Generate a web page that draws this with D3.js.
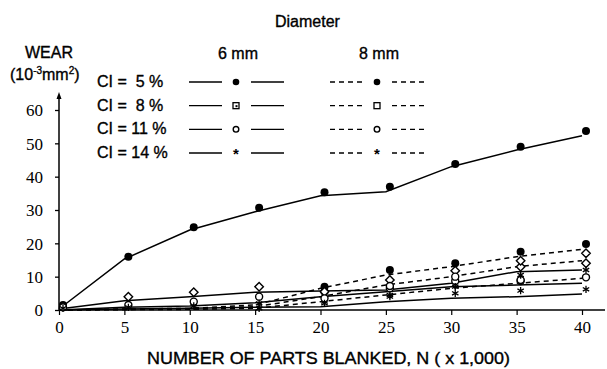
<!DOCTYPE html>
<html>
<head>
<meta charset="utf-8">
<script src="https://cdn.jsdelivr.net/npm/d3@7"></script>
<style>
	body { margin: 0; background: #fff; }
	svg text { font-family: "Liberation Sans", Arial, sans-serif; fill: #000; white-space: pre; }
	svg text.sans { stroke: #000; stroke-width: 0.35px; }
</style>
</head>
<body>
<svg id="chart" width="607" height="369"></svg>
<script>
'use strict';

// number of parts blanked (x 1,000)
var partsBlanked = [0, 5, 10, 15, 20, 25, 30, 35, 40];

// 6 mm diameter: measured points and fitted curve (wear, 10^-3 mm^2)
var d6ci5Points = [1.5, 16, 24.8, 30.7, 35.3, 37, 43.8, 49, 53.7];
var d6ci5Fit = [0.3, 15.3, 24, 29.5, 34.3, 35.5, 43, 48, 52.3];
var d6ci8Points = [null, 4, 5.3, 7, null, null, null, 13, 14];
var d6ci8Fit = [0.3, 2.8, 4, 5.3, 5.7, 6, 8, 11.5, 12];
var d6ci11Points = [0.8, 1.5, 2.5, 4, 5.5, 6.5, 8.7, 8.7, null];
var d6ci11Fit = [0, 0.8, 1.2, 2.2, 4, 5.5, 7, 7.5, 8];
var d6ci14Points = [0.5, 0.8, 1.2, 2, 2.5, 4.5, 5, 5.8, 6.2];
var d6ci14Fit = [0, 0.3, 0.5, 0.8, 1, 2.5, 3.5, 4, 4.8];

// 8 mm diameter
var d8ci5Points = [null, null, null, null, 7, 12, 14, 17.5, 19.8];
var d8ci5Fit = [0, 0.3, 0.5, 1.5, 6.5, 10.5, 13, 16, 18.2];
var d8ci8Points = [null, null, null, null, 5.5, 9, 11.8, 14.8, 17];
var d8ci8Fit = [0, 0.2, 0.4, 1, 4, 7.5, 10, 13, 14.8];
var d8ci11Points = [null, null, null, null, 3.5, 7.2, 10, 9, 9.8];
var d8ci11Fit = [0, 0.1, 0.2, 0.5, 2.5, 4.5, 6.5, 8, 9.5];
var d8ci14Points = [null, null, null, 0.5, 2, 4, 7, 10.5, 12];

var yTicks = [0, 10, 20, 30, 40, 50, 60];
var xTicks = [0, 5, 10, 15, 20, 25, 30, 35, 40];

var legendLabels = ["CI =  5 %", "CI =  8 %", "CI = 11 %", "CI = 14 %"];
var diameterLabels = ["6 mm", "8 mm"];

var wearChart = (function () {

	var MARK_DX = 4;
	var SERIF = "'Liberation Serif', 'Times New Roman', serif";

	var svg = d3.select("#chart");

	var x = d3.scaleLinear()
		.domain([0, 40])
		.range([59, 582]);

	var y = d3.scaleLinear()
		.domain([0, 60])
		.range([310, 110]);

	var series = [
		{ dash: null, mark: "dot", points: d6ci5Points, fit: d6ci5Fit },
		{ dash: null, mark: "diamond", points: d6ci8Points, fit: d6ci8Fit },
		{ dash: null, mark: "circle", points: d6ci11Points, fit: d6ci11Fit },
		{ dash: null, mark: "asterisk", points: d6ci14Points, fit: d6ci14Fit },
		{ dash: "5,4", mark: "dot", points: d8ci5Points, fit: d8ci5Fit },
		{ dash: "5,4", mark: "diamond", points: d8ci8Points, fit: d8ci8Fit },
		{ dash: "5,4", mark: "circle", points: d8ci11Points, fit: d8ci11Fit },
		{ dash: "5,4", mark: "asterisk", points: d8ci14Points, fit: null }
	];

	// legend symbols: rows x diameters
	var legendMarks = [["dot", "dot"], ["dotsquare", "square"], ["circle", "circle"], ["star", "star"]];

	function drawMark(g, kind, cx, cy, big) {
		var r = big ? 4 : 3.3;
		switch (kind) {
			case "dot":
				g.append("circle").attr("cx", cx).attr("cy", cy).attr("r", r)
					.style("fill", "#000");
				break;
			case "circle":
				g.append("circle").attr("cx", cx).attr("cy", cy).attr("r", r - 0.5)
					.style("fill", "#fff").style("stroke", "#000").style("stroke-width", 1.4);
				break;
			case "diamond":
				g.append("path")
					.attr("d", d3.symbol(d3.symbolDiamond2, 46)())
					.attr("transform", "translate(" + cx + "," + cy + ")")
					.style("fill", "#fff").style("stroke", "#000").style("stroke-width", 1.4);
				break;
			case "asterisk":
				g.append("path")
					.attr("d", d3.symbol(d3.symbolAsterisk, 38)())
					.attr("transform", "translate(" + cx + "," + cy + ")")
					.style("fill", "none").style("stroke", "#000").style("stroke-width", 1.3);
				break;
			case "square":
			case "dotsquare":
				g.append("rect").attr("x", cx - 3).attr("y", cy - 3)
					.attr("width", 6).attr("height", 6)
					.style("fill", "#fff").style("stroke", "#000").style("stroke-width", 1.3);
				if (kind === "dotsquare") {
					g.append("rect").attr("x", cx - 0.5).attr("y", cy - 0.5)
						.attr("width", 2).attr("height", 2).style("fill", "#000");
				}
				break;
			case "star":
				g.append("text").attr("x", cx).attr("y", cy + 6)
					.attr("text-anchor", "middle")
					.style("font-size", "15px").style("font-weight", "bold")
					.text("*");
				break;
		}
	}

	function drawAxes() {
		var yAxis = d3.axisLeft(y)
			.tickValues(yTicks)
			.tickSize(4)
			.tickSizeOuter(0)
			.tickPadding(12);

		var gy = svg.append("g")
			.attr("transform", "translate(" + x(0) + ",0)")
			.call(yAxis);
		gy.select(".domain").remove();
		gy.selectAll("text")
			.attr("dy", "0.34em")
			.style("font-family", SERIF)
			.style("font-size", "17px");
		gy.selectAll("line").style("stroke-width", 1.3);

		var xAxis = d3.axisBottom(x)
			.tickValues(xTicks)
			.tickSize(5)
			.tickSizeOuter(0)
			.tickPadding(6);

		var gx = svg.append("g")
			.attr("transform", "translate(0," + y(0) + ")")
			.call(xAxis);
		gx.select(".domain").remove();
		gx.selectAll("text")
			.style("font-family", SERIF)
			.style("font-size", "17px");
		gx.selectAll("line").style("stroke-width", 1.2);

		// axis lines
		svg.append("line")
			.attr("x1", x(0)).attr("x2", 605)
			.attr("y1", y(0)).attr("y2", y(0))
			.style("stroke", "#000").style("stroke-width", 1.6);

		svg.append("line")
			.attr("x1", x(0)).attr("x2", x(0))
			.attr("y1", y(0)).attr("y2", 96)
			.style("stroke", "#000").style("stroke-width", 1.5);

		svg.append("path")
			.attr("d", "M" + x(0) + ",92 l-2.5,7 l5,0 z")
			.style("fill", "#000");
	}

	function drawSeries() {
		var line = d3.line()
			.defined(function (d) { return d[1] !== null; })
			.x(function (d) { return x(d[0]); })
			.y(function (d) { return y(d[1]); });

		series.forEach(function (s) {
			if (!s.fit) return;
			svg.append("path")
				.datum(d3.zip(partsBlanked, s.fit))
				.attr("d", line)
				.style("fill", "none")
				.style("stroke", "#000")
				.style("stroke-width", 1.5)
				.style("stroke-dasharray", s.dash);
		});

		var marks = svg.append("g");
		series.forEach(function (s) {
			s.points.forEach(function (v, i) {
				if (v === null) return;
				drawMark(marks, s.mark, x(partsBlanked[i]) + MARK_DX, y(v), true);
			});
		});
	}

	function drawLegend() {
		var rowY = d3.scalePoint()
			.domain(legendLabels)
			.range([82, 153]);

		var colX = d3.scalePoint()
			.domain(diameterLabels)
			.range([236, 377]);

		svg.append("text")
			.classed("sans", 1)
			.attr("x", 275).attr("y", 27)
			.style("font-size", "16px")
			.text("Diameter");

		svg.selectAll(".dia-label")
			.data(diameterLabels)
			.enter()
			.append("text")
			.classed("dia-label sans", 1)
			.attr("x", function (d) { return colX(d) + 2; })
			.attr("y", 59)
			.attr("text-anchor", "middle")
			.style("font-size", "16px")
			.text(function (d) { return d; });

		var rows = svg.selectAll(".legend-row")
			.data(legendLabels)
			.enter()
			.append("g")
			.classed("legend-row", 1);

		rows.append("text")
			.classed("sans", 1)
			.attr("x", 97)
			.attr("y", function (d) { return rowY(d) + 5; })
			.style("font-size", "16px")
			.text(function (d) { return d; });

		rows.each(function (d, i) {
			var g = d3.select(this);
			var cy = rowY(d);
			diameterLabels.forEach(function (dia, j) {
				var cx = colX(dia);
				var dashed = j === 1;
				[[cx - 47, cx - 14], [cx + 15, cx + 48]].forEach(function (seg) {
					g.append("line")
						.attr("x1", seg[0]).attr("x2", seg[1])
						.attr("y1", cy).attr("y2", cy)
						.style("stroke", "#000")
						.style("stroke-width", 1.3)
						.style("stroke-dasharray", dashed ? "5,4" : null);
				});
				drawMark(g, legendMarks[i][j], cx, cy, false);
			});
		});
	}

	function drawTitles() {
		svg.append("text")
			.classed("sans", 1)
			.attr("x", 25).attr("y", 58)
			.style("font-size", "16px")
			.text("WEAR");

		var unit = svg.append("text")
			.classed("sans", 1)
			.attr("x", 10).attr("y", 80)
			.style("font-size", "16px");
		unit.append("tspan").text("(10");
		unit.append("tspan").attr("dy", -6).style("font-size", "10px").text("-3");
		unit.append("tspan").attr("dy", 6).text("mm");
		unit.append("tspan").attr("dy", -6).style("font-size", "10px").text("2");
		unit.append("tspan").attr("dy", 6).text(")");

		svg.append("text")
			.classed("sans", 1)
			.attr("x", 147).attr("y", 364)
			.attr("textLength", 363)
			.attr("lengthAdjust", "spacingAndGlyphs")
			.style("font-size", "16.5px")
			.text("NUMBER OF PARTS BLANKED, N ( x 1,000)");
	}

	return {
		init: function () {
			drawAxes();
			drawSeries();
			drawLegend();
			drawTitles();
		}
	};

})();

wearChart.init();
</script>
</body>
</html>
